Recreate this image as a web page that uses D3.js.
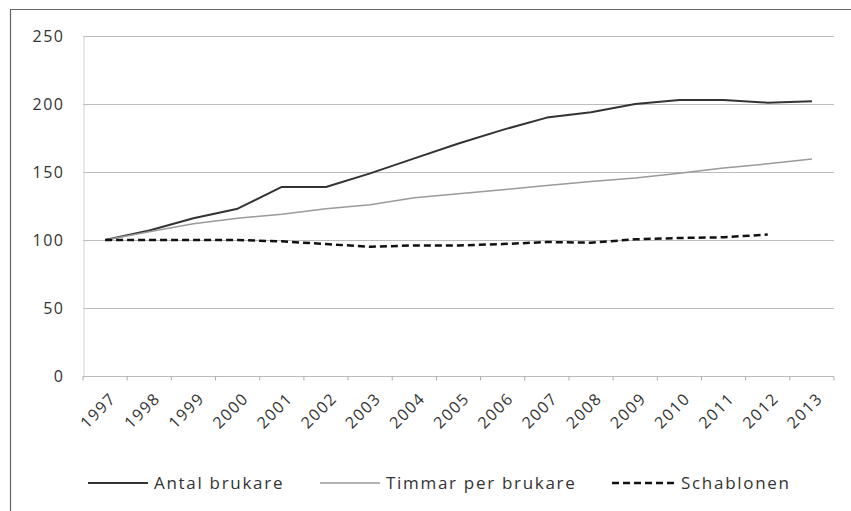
<!DOCTYPE html>
<html>
<head>
<meta charset="utf-8">
<script src="https://cdn.jsdelivr.net/npm/d3@7"></script>
<style>
  body { margin: 0; background: #fff; }
  svg { display: block; }
  text { font-family: "Open Sans", "DejaVu Sans", sans-serif; fill: #333; }
</style>
</head>
<body>
<svg id="chart" width="851" height="511"></svg>
<script>
const years = ['1997','1998','1999','2000','2001','2002','2003','2004','2005',
               '2006','2007','2008','2009','2010','2011','2012','2013'];
const antalBrukare = [100,107,116,123,139,139,149,160,171,181,190,194,200,203,203,201,202];
const timmarPerBrukare = [100,106,112,116,119,123,126,131,134,137,140,143,145.5,149,153,156,159.5];
const schablonen = [100,100,100,100,99,97,95,96,96,97,98.5,98,100.5,101.5,102,104,null];
const yTicks = [0,50,100,150,200,250];

const series = [
  {name: 'Antal brukare', values: antalBrukare, color: '#333', width: 2, dash: null},
  {name: 'Timmar per brukare', values: timmarPerBrukare, color: '#9a9a9a', width: 1.5, dash: null},
  {name: 'Schablonen', values: schablonen, color: '#111', width: 2.5, dash: '7,4'}
];

const svg = d3.select('#chart');
const plot = {left: 83, right: 834, top: 36, bottom: 376};

// ram runt diagrammet (bara topp och vänster syns i originalet)
svg.append('path')
  .attr('d', `M10.5,520 V9.5 H860`)
  .attr('fill', 'none').attr('stroke', '#666').attr('stroke-width', 1.2);

const x = d3.scaleBand().domain(years).range([plot.left, plot.right]);
const y = d3.scaleLinear().domain([0, 250]).range([plot.bottom, plot.top]);

// stödlinjer
svg.append('g').selectAll('line').data(yTicks.filter(d => d > 0)).join('line')
  .attr('x1', plot.left).attr('x2', plot.right)
  .attr('y1', d => Math.round(y(d)) + 0.5).attr('y2', d => Math.round(y(d)) + 0.5)
  .attr('stroke', '#bcbcbc').attr('stroke-width', 1);

// y-axel
const yAxis = svg.append('g')
  .attr('transform', `translate(${plot.left + 0.5},0)`)
  .call(d3.axisLeft(y).tickValues(yTicks).tickSize(0).tickPadding(19));
yAxis.select('.domain').attr('stroke', '#d0d0d0');
yAxis.selectAll('text')
  .style('font-size', '16px')
  .style('letter-spacing', '1.5px')
  .style('font-family', '"Open Sans", sans-serif');

// x-axel med streck mellan kategorierna
const xAxis = svg.append('g')
  .attr('transform', `translate(0,${Math.round(plot.bottom) + 0.5})`);
xAxis.append('line')
  .attr('x1', plot.left).attr('x2', plot.right)
  .attr('stroke', '#bbb');
xAxis.selectAll('line.tick')
  .data(years.map(d => x(d)).concat([plot.right]))
  .join('line').attr('class', 'tick')
  .attr('x1', d => d).attr('x2', d => d)
  .attr('y1', 0).attr('y2', 4)
  .attr('stroke', '#aaa');
xAxis.selectAll('text')
  .data(years).join('text')
  .attr('transform', d => `translate(${x(d) + x.bandwidth() / 2 + 8},${19}) rotate(-45)`)
  .attr('text-anchor', 'end')
  .attr('dy', '0.35em')
  .style('font-size', '16px')
  .style('letter-spacing', '1.5px')
  .text(d => d);

// linjer
const line = d3.line()
  .defined(d => d != null)
  .x((d, i) => x(years[i]) + x.bandwidth() / 2)
  .y(d => y(d));

svg.append('g').selectAll('path').data(series).join('path')
  .attr('d', s => line(s.values))
  .attr('fill', 'none')
  .attr('stroke', s => s.color)
  .attr('stroke-width', s => s.width)
  .attr('stroke-dasharray', s => s.dash)
  .attr('stroke-linejoin', 'round');

// förklaring
const legendPos = [88, 320, 612];
const legend = svg.append('g').selectAll('g').data(series).join('g')
  .attr('transform', (s, i) => `translate(${legendPos[i]},483)`);
legend.append('line')
  .attr('x1', 0).attr('x2', s => s.dash ? 64 : 60)
  .attr('stroke', s => s.color)
  .attr('stroke-width', s => s.width)
  .attr('stroke-dasharray', s => s.dash);
legend.append('text')
  .attr('x', s => s.dash ? 69 : 66)
  .attr('dy', '0.35em')
  .style('font-size', '17px')
  .style('letter-spacing', '1.7px')
  .text(s => s.name);
</script>
</body>
</html>
